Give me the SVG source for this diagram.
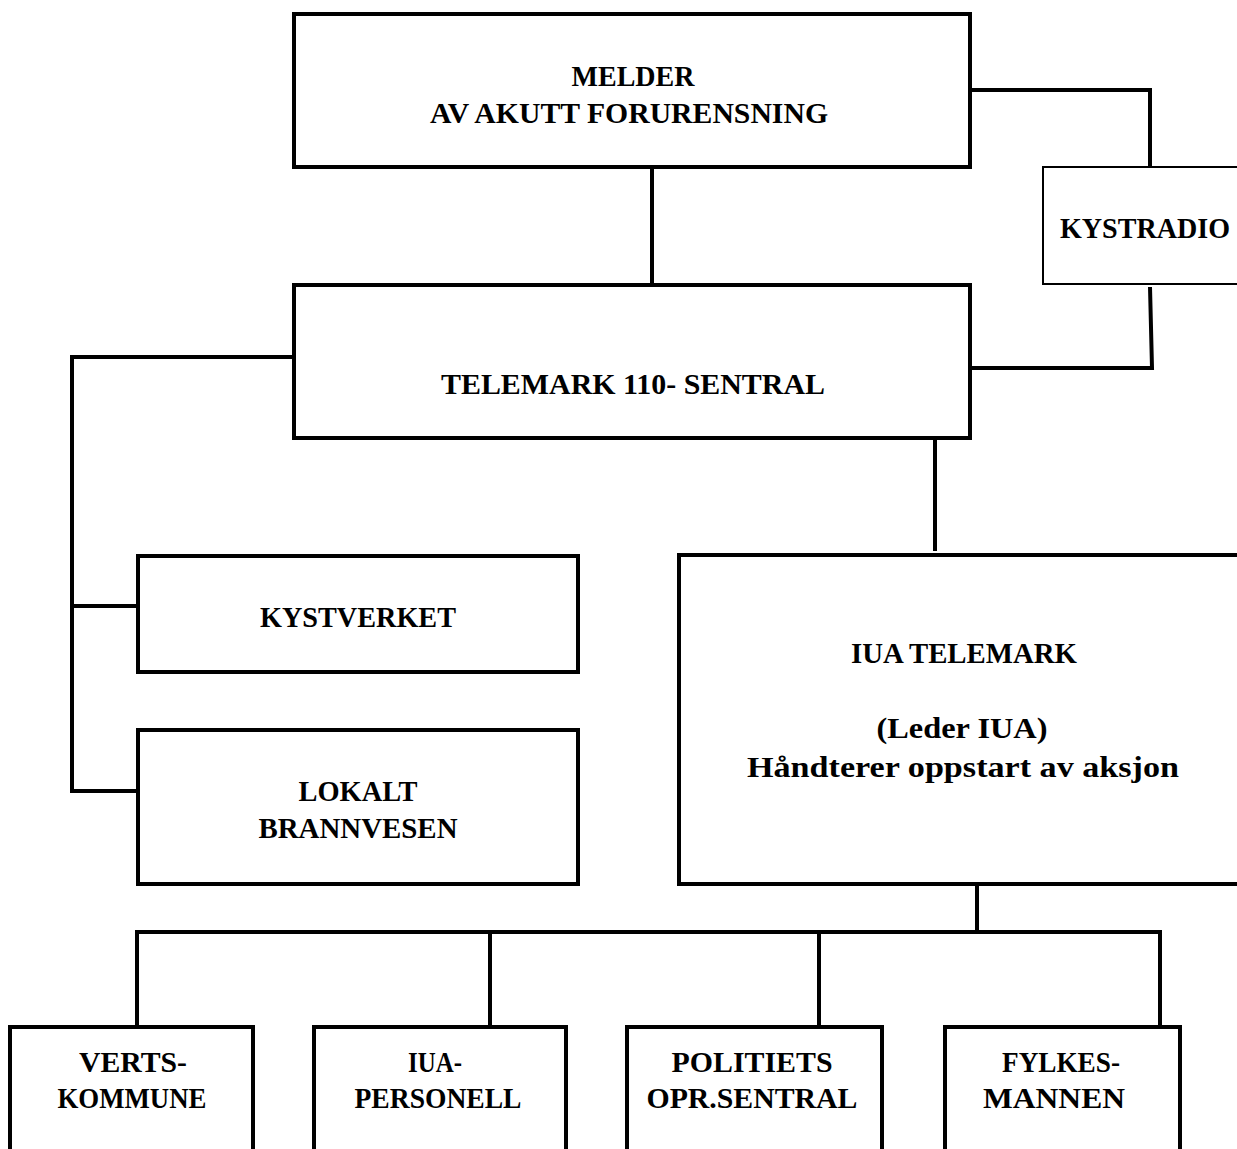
<svg xmlns="http://www.w3.org/2000/svg" width="1237" height="1149" viewBox="0 0 1237 1149">
<style>
.box{fill:#fff;stroke:#000;stroke-width:4}
.thin{fill:#fff;stroke:#000;stroke-width:2}
.con{fill:none;stroke:#000;stroke-width:4}
text{font-family:"Liberation Serif","Times New Roman",serif;font-weight:bold;font-size:30px;fill:#000;text-anchor:middle}
</style>
<rect width="1237" height="1149" fill="#fff"/>
<g id="connectors">
<path class="con" d="M652,167 V285"/>
<path class="con" d="M970,90 H1150 V167"/>
<path class="con" d="M1150,287 L1152,368 H970"/>
<path class="con" d="M294,357 H72 V791 H138"/>
<path class="con" d="M72,606 H138"/>
<path class="con" d="M935,438 V551"/>
<path class="con" d="M977,884 V932"/>
<path class="con" d="M137,1027 V932 H1160 V1027"/>
<path class="con" d="M490,932 V1027"/>
<path class="con" d="M819,932 V1027"/>
</g>
<g id="melder">
<rect class="box" x="294" y="14" width="676" height="153"/>
<text x="633" y="86" textLength="123" lengthAdjust="spacingAndGlyphs">MELDER</text>
<text x="629" y="123" textLength="398" lengthAdjust="spacingAndGlyphs">AV AKUTT FORURENSNING</text>
</g>
<g id="kystradio">
<rect class="thin" x="1043" y="167" width="210" height="117"/>
<text x="1145" y="238" textLength="170" lengthAdjust="spacingAndGlyphs">KYSTRADIO</text>
</g>
<g id="telemark110">
<rect class="box" x="294" y="285" width="676" height="153"/>
<text x="633" y="394" textLength="384" lengthAdjust="spacingAndGlyphs">TELEMARK 110- SENTRAL</text>
</g>
<g id="kystverket">
<rect class="box" x="138" y="556" width="440" height="116"/>
<text x="358" y="627" textLength="196" lengthAdjust="spacingAndGlyphs">KYSTVERKET</text>
</g>
<g id="brannvesen">
<rect class="box" x="138" y="730" width="440" height="154"/>
<text x="358" y="801" textLength="119" lengthAdjust="spacingAndGlyphs">LOKALT</text>
<text x="358" y="838" textLength="199" lengthAdjust="spacingAndGlyphs">BRANNVESEN</text>
</g>
<g id="iua">
<rect class="box" x="679" y="555" width="600" height="329"/>
<text x="964" y="663" textLength="226" lengthAdjust="spacingAndGlyphs">IUA TELEMARK</text>
<text x="962" y="738" textLength="171" lengthAdjust="spacingAndGlyphs">(Leder IUA)</text>
<text x="963" y="777" textLength="432" lengthAdjust="spacingAndGlyphs">Håndterer oppstart av aksjon</text>
</g>
<g id="vertskommune">
<rect class="box" x="10" y="1027" width="243" height="140"/>
<text x="133" y="1072" textLength="108" lengthAdjust="spacingAndGlyphs">VERTS-</text>
<text x="132" y="1108" textLength="149" lengthAdjust="spacingAndGlyphs">KOMMUNE</text>
</g>
<g id="iuapersonell">
<rect class="box" x="314" y="1027" width="252" height="140"/>
<text x="435" y="1072" textLength="54" lengthAdjust="spacingAndGlyphs">IUA-</text>
<text x="438" y="1108" textLength="167" lengthAdjust="spacingAndGlyphs">PERSONELL</text>
</g>
<g id="politiet">
<rect class="box" x="627" y="1027" width="255" height="140"/>
<text x="752" y="1072" textLength="161" lengthAdjust="spacingAndGlyphs">POLITIETS</text>
<text x="752" y="1108" textLength="211" lengthAdjust="spacingAndGlyphs">OPR.SENTRAL</text>
</g>
<g id="fylkesmannen">
<rect class="box" x="945" y="1027" width="235" height="140"/>
<text x="1061" y="1072" textLength="118" lengthAdjust="spacingAndGlyphs">FYLKES-</text>
<text x="1054" y="1108" textLength="142" lengthAdjust="spacingAndGlyphs">MANNEN</text>
</g>
</svg>
